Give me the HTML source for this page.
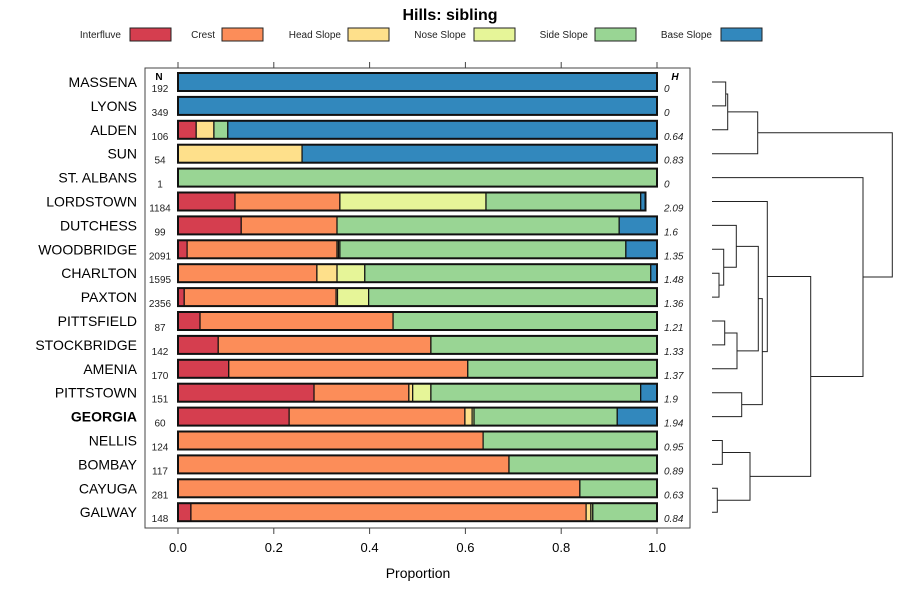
<!DOCTYPE html>
<html><head><meta charset="utf-8"><style>
body{margin:0;background:#fff}
svg{display:block;font-family:"Liberation Sans",sans-serif}
</style></head><body>
<svg id="chart" width="900" height="600" xmlns="http://www.w3.org/2000/svg">
<rect width="900" height="600" fill="#fff"/>
<text x="450" y="20" text-anchor="middle" font-size="16" font-weight="bold">Hills: sibling</text>
<g id="legend"></g>
<rect x="145" y="68" width="545" height="460" fill="none" stroke="#444" stroke-width="1"/>
<g id="bars"></g>
<g id="axes"></g>
<g id="dendro" stroke="#222" stroke-width="1" fill="none"></g>
<text x="418" y="578" text-anchor="middle" font-size="14">Proportion</text>
</svg>
<script>
const classes = ["Interfluve","Crest","Head Slope","Nose Slope","Side Slope","Base Slope"];
const colors = ["#D53E4F","#FC8D59","#FEE08B","#E6F598","#99D594","#3288BD"];
const series = ["MASSENA","LYONS","ALDEN","SUN","ST. ALBANS","LORDSTOWN","DUTCHESS","WOODBRIDGE","CHARLTON","PAXTON","PITTSFIELD","STOCKBRIDGE","AMENIA","PITTSTOWN","GEORGIA","NELLIS","BOMBAY","CAYUGA","GALWAY"];
const counts = [192,349,106,54,1,1184,99,2091,1595,2356,87,142,170,151,60,124,117,281,148];
const entropy = ["0","0","0.64","0.83","0","2.09","1.6","1.35","1.48","1.36","1.21","1.33","1.37","1.9","1.94","0.95","0.89","0.63","0.84"];
const proportions = [
 [0,0,0,0,0,1],
 [0,0,0,0,0,1],
 [0.038,0,0.037,0,0.029,0.896],
 [0,0,0.259,0,0,0.741],
 [0,0,0,0,1,0],
 [0.119,0.219,0,0.305,0.323,0.010],
 [0.132,0.200,0,0,0.589,0.079],
 [0.019,0.313,0.003,0.003,0.597,0.065],
 [0,0.290,0.042,0.058,0.597,0.013],
 [0.013,0.317,0.003,0.065,0.602,0],
 [0.046,0.403,0,0,0.551,0],
 [0.084,0.444,0,0,0.472,0],
 [0.106,0.499,0,0,0.395,0],
 [0.284,0.198,0.008,0.038,0.438,0.034],
 [0.232,0.367,0.015,0.004,0.299,0.083],
 [0,0.637,0,0,0.363,0],
 [0,0.691,0,0,0.309,0],
 [0,0.839,0,0,0.161,0],
 [0.027,0.825,0.010,0.004,0.134,0]
];
const ticks = [0,0.2,0.4,0.6,0.8,1.0];
const tickLabels = ["0.0","0.2","0.4","0.6","0.8","1.0"];
// dendrogram merges: [left, right, height]; negative = leaf index (-(i+1)), positive = merge index (1-based)
const merges = [
 [-1,-2,13.7],[1,-3,15.7],[2,-4,45.7],
 [-9,-10,7],[-8,4,11.7],[-7,5,24.3],
 [-11,-12,12.7],[7,-13,25],[6,8,46.3],
 [-14,-15,29.7],[9,10,50.3],[-6,11,55.3],
 [-16,-17,10.3],[-18,-19,5.3],[13,14,38],
 [12,15,98.7],[-5,16,151],[3,17,180.3]
];

const NS="http://www.w3.org/2000/svg";
function mk(tag,attrs,parent,text){const e=document.createElementNS(NS,tag);for(const k in attrs)e.setAttribute(k,attrs[k]);if(text!==undefined)e.textContent=text;parent.appendChild(e);return e;}
const x0=178,x1=657;
const xs=v=>x0+v*(x1-x0);
const rowY=i=>82+i*23.9;
const barH=18;

// legend
const leg=document.getElementById('legend');
const legTextX=[121,215,341,466,588,712], legBoxX=[130,222,348,474,595,721];
classes.forEach((c,i)=>{
  const t=mk('text',{x:legTextX[i],y:38,'text-anchor':'end','font-size':10,fill:'#222'},leg,c);
  
  
  const r=mk('rect',{x:legBoxX[i],y:28,width:41,height:13,fill:colors[i],stroke:'#222','stroke-width':1},leg);
  
  
});

// bars
const bars=document.getElementById('bars');
mk('text',{x:159,y:80,'text-anchor':'middle','font-size':10,'font-weight':'bold'},bars,'N');
mk('text',{x:675,y:80,'text-anchor':'middle','font-size':10,'font-weight':'bold','font-style':'italic'},bars,'H');
series.forEach((s,i)=>{
  const y=rowY(i);
  const lab=mk('text',{x:137,y:y+5,'text-anchor':'end','font-size':14,'font-weight':s==='GEORGIA'?'bold':'normal'},bars,s);
  
  
  const n=mk('text',{x:160,y:y+10,'text-anchor':'middle','font-size':10,fill:'#222'},bars,String(counts[i]));
  
  
  const h=mk('text',{x:664,y:y+10,'font-size':10,'font-style':'italic',fill:'#222'},bars,entropy[i]);
  
  
  let cum=0;
  proportions[i].forEach((p,j)=>{
    if(p<=0)return;
    const r=mk('rect',{x:xs(cum),y:y-barH/2,width:xs(cum+p)-xs(cum),height:barH,fill:colors[j],stroke:'#111','stroke-width':1.2},bars);
    
    
    cum+=p;
  });
  const o=mk('rect',{x:xs(0),y:y-barH/2,width:xs(cum)-xs(0),height:barH,fill:'none',stroke:'#111','stroke-width':2},bars);
  
  
});

// axes
const ax=document.getElementById('axes');
ticks.forEach((t,i)=>{
  mk('line',{x1:xs(t),x2:xs(t),y1:62,y2:68,stroke:'#444'},ax);
  mk('line',{x1:xs(t),x2:xs(t),y1:528,y2:534,stroke:'#444'},ax);
  const l=mk('text',{x:xs(t),y:552,'text-anchor':'middle','font-size':13},ax,tickLabels[i]);
  
  
});

// dendrogram
const dg=document.getElementById('dendro');
const leafX=712, hx=h=>leafX+h;
const node=[];
function pos(id){ if(id<0) return {x:leafX,y:rowY(-id-1)}; return node[id-1]; }
merges.forEach(m=>{
  const a=pos(m[0]),b=pos(m[1]),x=hx(m[2]);
  const p=mk('path',{d:`M${a.x},${a.y}H${x}V${b.y}H${b.x}`},dg);
  
  
  node.push({x:x,y:(a.y+b.y)/2});
});
</script>
</body></html>
